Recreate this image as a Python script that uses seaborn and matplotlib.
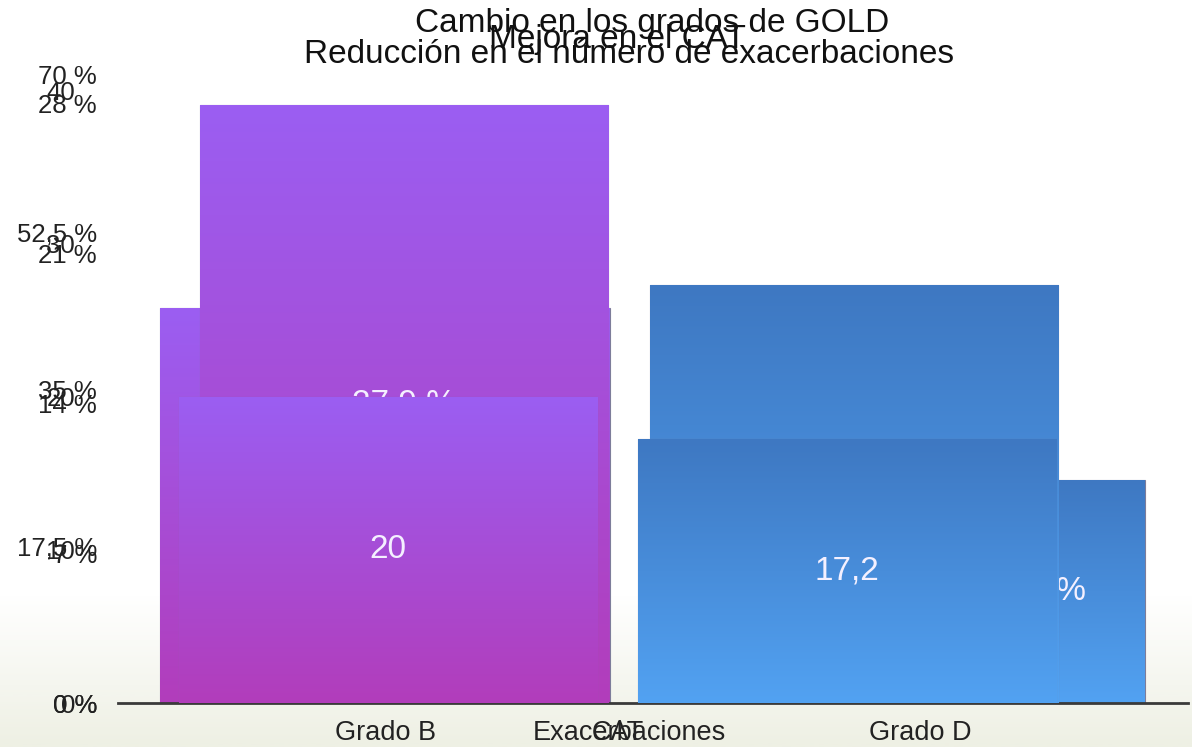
import numpy as np
import pandas as pd
import matplotlib
matplotlib.use('Agg')
import matplotlib.pyplot as plt
from matplotlib.colors import LinearSegmentedColormap
import seaborn as sns

# Datos (tres diagramas superpuestos en la diapositiva)
grados = ['Grado B', 'Grado D']
gold_valores = [44.0, 24.9]          # Cambio en los grados de GOLD (%)
gold_etiquetas = ['44 %', '24,9 %']
cat_valores = [20, 17.2]             # Mejora en el CAT (puntos)
cat_etiquetas = ['20', '17,2']
exac_valores = [27.9, 19.5]          # Reducción de exacerbaciones (%)
exac_etiquetas = ['27,9 %', '19,5 %']

gold_ticks = [0, 17.5, 35, 52.5, 70]
gold_ticklabels = ['0 %', '17,5 %', '35 %', '52,5 %', '70 %']
cat_ticks = [0, 10, 20, 30, 40]
cat_ticklabels = ['0', '10', '20', '30', '40']
exac_ticks = [0, 7, 14, 21, 28]
exac_ticklabels = ['0 %', '7 %', '14 %', '21 %', '28 %']

morado = '#a24fdc'
azul = '#4688d4'
degradados = {'Grado B': ('#9b5ef2', '#b23dbb'), 'Grado D': ('#3e78c2', '#52a2f2')}

sns.set_theme(style='white')
plt.rcParams['font.family'] = ['Liberation Sans', 'DejaVu Sans']

fig = plt.figure(figsize=(11.92, 7.47), dpi=100)

# fondo: blanco con un leve tono verdoso abajo
fondo = fig.add_axes([0, 0, 1, 1], zorder=-1)
cmap_fondo = LinearSegmentedColormap.from_list(
    'fondo', [(0, '#ffffff'), (0.8, '#ffffff'), (0.92, '#f5f6ef'), (1, '#eef0e4')])
fondo.imshow(np.linspace(0, 1, 300).reshape(-1, 1), cmap=cmap_fondo, aspect='auto',
             extent=[0, 1, 0, 1], origin='upper')
fondo.axis('off')


def pintar_degradado(ax):
    xl, yl = ax.get_xlim(), ax.get_ylim()
    for barra, grado in zip(ax.patches, grados):
        arriba, abajo = degradados[grado]
        cmap = LinearSegmentedColormap.from_list('', [arriba, abajo])
        x0, y0 = barra.get_x(), barra.get_y()
        im = ax.imshow(np.linspace(0, 1, 256).reshape(-1, 1), cmap=cmap, origin='upper',
                       extent=[x0, x0 + barra.get_width(), y0, y0 + barra.get_height()],
                       aspect='auto', zorder=barra.get_zorder() + 0.1)
        im.set_clip_path(barra)
        barra.set_edgecolor('#7d7d9a')
        barra.set_linewidth(0.8)
    ax.set_xlim(xl)
    ax.set_ylim(yl)


def estilo(ax, ticks, ticklabels, pad_y):
    ax.patch.set_visible(False)
    ax.set_yticks(ticks)
    ax.set_yticklabels(ticklabels)
    ax.tick_params(axis='y', length=0, pad=pad_y, labelsize=18.5, labelcolor='#222222')
    ax.tick_params(axis='x', length=0, pad=12, labelsize=19.5, labelcolor='#222222')
    ax.set_xlabel('')
    ax.set_ylabel('')
    for s in ax.spines.values():
        s.set_visible(False)


# 1. Cambio en los grados de GOLD (al fondo)
ax1 = fig.add_axes([0.0986, 0.0589, 0.8977, 0.8407])
sns.barplot(x=grados, y=gold_valores, hue=grados, palette=[morado, azul],
            width=0.84, legend=False, ax=ax1)
ax1.set_xlim(-0.5, 1.5)
ax1.set_ylim(0, 70)
estilo(ax1, gold_ticks, gold_ticklabels, 14.8)
ax1.spines['bottom'].set_visible(True)
ax1.spines['bottom'].set_color('#3a3a3a')
ax1.spines['bottom'].set_linewidth(2)
pintar_degradado(ax1)
for i, (v, t) in enumerate(zip(gold_valores, gold_etiquetas)):
    ax1.text(i + 0.31, v / 2, t, ha='right', va='center', fontsize=24, color='#f4f0ff', zorder=3)
ax1.set_title('Cambio en los grados de GOLD', fontsize=24, color='#111111', pad=31)

# 2. Reducción en el número de exacerbaciones
df_exac = pd.DataFrame({'categoria': ['Exacerbaciones'] * 2, 'grado': grados, 'valor': exac_valores})
ax3 = fig.add_axes([0.0558, 0.0589, 0.9438, 0.8032])
sns.barplot(data=df_exac, x='categoria', y='valor', hue='grado', palette=[morado, azul],
            width=0.8, gap=0.093, legend=False, ax=ax3)
ax3.set_xlim(-0.5, 0.5)
ax3.set_ylim(0, 28)
estilo(ax3, exac_ticks, exac_ticklabels, -22)
pintar_degradado(ax3)
for cont, t in zip(ax3.containers, exac_etiquetas):
    ax3.bar_label(cont, labels=[t], label_type='center', fontsize=24, color='#f4f0ff')
ax3.set_title('Reducción en el número de exacerbaciones', fontsize=24, color='#111111', pad=29)

# 3. Mejora en el CAT (delante)
df_cat = pd.DataFrame({'categoria': ['CAT'] * 2, 'grado': grados, 'valor': cat_valores})
ax2 = fig.add_axes([0.0369, 0.0589, 0.9627, 0.8206])
sns.barplot(data=df_cat, x='categoria', y='valor', hue='grado', palette=[morado, azul],
            width=0.8, gap=0.089, legend=False, ax=ax2)
ax2.set_xlim(-0.5, 0.5)
ax2.set_ylim(0, 40)
estilo(ax2, cat_ticks, cat_ticklabels, -22.3)
pintar_degradado(ax2)
for cont, t in zip(ax2.containers, cat_etiquetas):
    ax2.bar_label(cont, labels=[t], label_type='center', fontsize=24, color='#f4f0ff')
ax2.set_title('Mejora en el CAT', fontsize=24, color='#111111', pad=30)

fig.savefig('out.png', dpi=100)
